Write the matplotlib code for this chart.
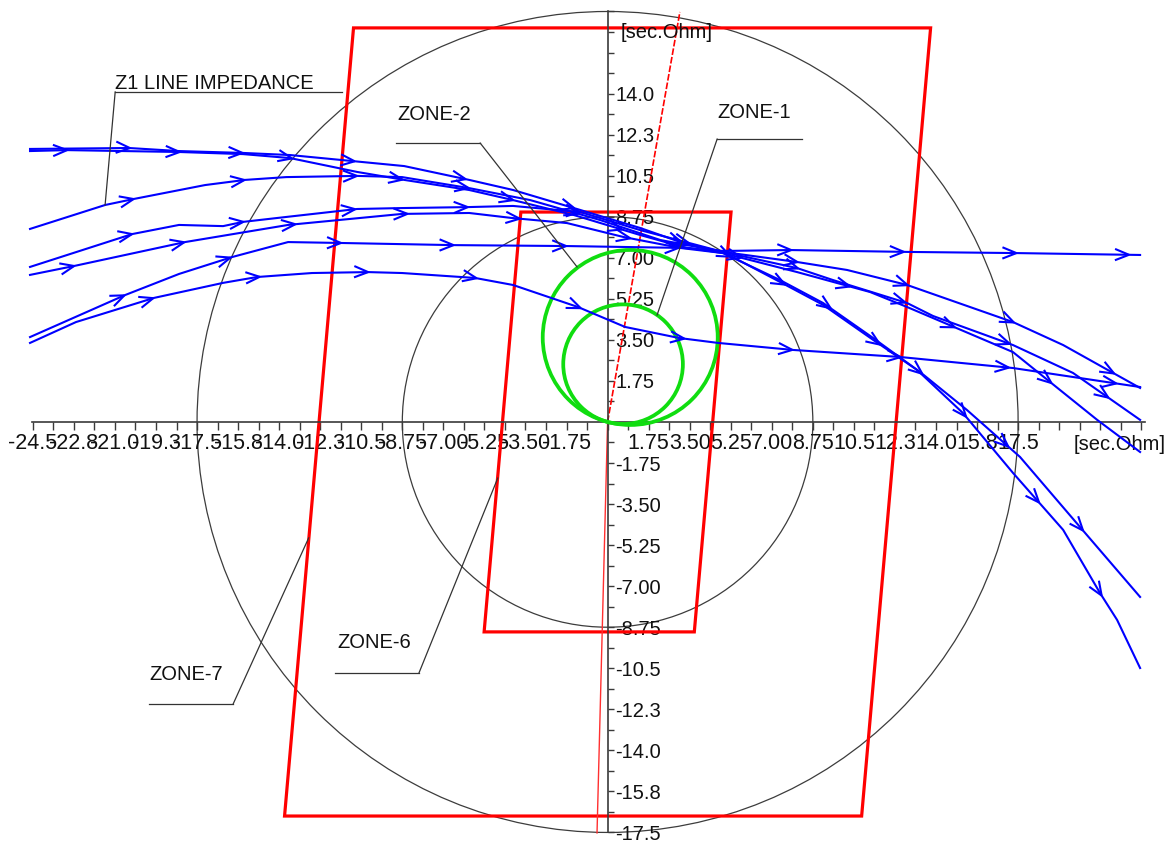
import numpy as np
import matplotlib
matplotlib.use("Agg")
import matplotlib.pyplot as plt
from matplotlib.patches import Circle, Polygon

plt.rcParams['font.family'] = ['Liberation Sans', 'DejaVu Sans']

# ---- axis scale (secondary ohms) ----
tick_step = 0.875
x_tick_min, x_tick_max = -24.5, 22.75
y_tick_min, y_tick_max = -17.5, 17.5
x_labels = ["-24.5", "-22.8", "-21.0", "-19.3", "-17.5", "-15.8", "-14.0", "-12.3",
            "-10.5", "-8.75", "-7.00", "-5.25", "-3.50", "-1.75", "",
            "1.75", "3.50", "5.25", "7.00", "8.75", "10.5", "12.3", "14.0", "15.8", "17.5"]
y_labels = ["-17.5", "-15.8", "-14.0", "-12.3", "-10.5", "-8.75", "-7.00", "-5.25",
            "-3.50", "-1.75", "", "1.75", "3.50", "5.25", "7.00", "8.75", "10.5",
            "12.3", "14.0"]

# ---- protection characteristics ----
quad_angle = 85.0            # tilt of quadrilateral reactance sides (deg)
zone7_r, zone7_x = 12.3, 16.8
zone6_r, zone6_x = 4.48, 8.95
line_angle = 80.0            # line impedance angle (deg)
line_len_fwd = 17.75
line_rev_R, line_rev_X = -0.45, -17.52
mho_angle = 75.0
mho_radii = [3.73, 2.55]     # zone-2, zone-1
ref_circle_radii = [17.5, 8.75]

# ---- power swing impedance trajectories (R, X) ----
traj_A1_R = [-24.62, -20.40, -18.27, -15.54, -13.53, -8.67, -5.90, -4.03, -1.17, 1.39, 3.22, 4.92,
             7.35, 9.19, 11.32, 13.19, 15.15, 17.28, 19.42, 20.99, 21.72, 22.70]
traj_A1_X = [11.64, 11.68, 11.55, 11.47, 11.38, 10.91, 10.32, 9.89, 9.04, 8.27, 7.63, 7.25,
             5.97, 4.99, 3.50, 2.22, 0.38, -2.17, -4.60, -7.29, -8.44, -10.49]

traj_A2_R = [-24.62, -23.04, -18.27, -15.54, -13.53, -10.68, -8.67, -5.90, -4.03, -1.43, 1.39, 3.22,
             4.92, 7.35, 9.19, 11.32, 13.32, 15.32, 17.58, 20.14, 22.70]
traj_A2_X = [11.55, 11.59, 11.51, 11.42, 11.25, 10.66, 10.32, 9.89, 9.46, 8.82, 7.97, 7.46,
             7.20, 6.05, 5.07, 3.58, 2.13, 0.51, -1.49, -4.48, -7.46]

traj_B_R = [-24.62, -21.42, -20.18, -17.16, -15.45, -13.70, -10.68, -8.76, -5.90, -3.30, -0.32, 2.24,
            4.92, 8.08, 10.21, 12.77, 17.28, 19.42, 21.55, 22.70]
traj_B_X = [8.23, 9.25, 9.51, 10.10, 10.32, 10.44, 10.49, 10.44, 9.97, 9.46, 8.61, 7.76,
            7.25, 6.82, 6.48, 5.84, 4.26, 3.28, 2.09, 1.45]

traj_C_R = [-24.62, -20.27, -18.27, -16.39, -15.54, -13.70, -10.68, -8.76, -5.99, -4.03, -1.17, 1.39,
            4.92, 8.08, 9.61, 12.77, 13.87, 17.28, 19.84, 22.70]
traj_C_X = [6.61, 8.01, 8.40, 8.35, 8.53, 8.74, 9.08, 9.12, 9.16, 9.21, 8.95, 8.18,
            7.25, 6.56, 6.05, 5.07, 4.52, 3.28, 2.09, 0.09]

traj_D_R = [-24.62, -22.74, -18.01, -13.62, -8.76, -5.90, -4.11, -1.73, 0.66, 3.09, 4.92, 8.08,
            11.19, 12.77, 17.28, 19.29, 20.87, 22.70]
traj_D_X = [6.27, 6.65, 7.67, 8.40, 8.87, 8.91, 8.70, 8.48, 7.89, 7.42, 7.20, 6.39,
            5.54, 4.90, 2.98, 1.36, 0.09, -1.28]

traj_E_R = [-24.62, -20.57, -18.27, -16.01, -13.62, -11.32, -6.59, -1.73, 3.22, 4.92, 7.78, 12.77,
            17.46, 22.70]
traj_E_X = [3.62, 5.41, 6.31, 7.03, 7.67, 7.63, 7.54, 7.50, 7.42, 7.29, 7.33, 7.25,
            7.20, 7.12]

traj_F_R = [-24.62, -22.66, -19.33, -16.39, -14.94, -12.60, -10.21, -8.76, -5.65, -4.03, -1.26, 0.75,
            3.05, 4.71, 7.91, 12.47, 17.28, 22.70]
traj_F_X = [3.37, 4.26, 5.29, 5.93, 6.18, 6.35, 6.39, 6.35, 6.14, 5.84, 4.90, 4.05,
            3.58, 3.37, 3.07, 2.77, 2.30, 1.49]

# (R, X, arc distance to first direction mark, distance between marks)
trajectories = [(traj_A1_R, traj_A1_X, 4.26, 4.8), (traj_A2_R, traj_A2_X, 1.58, 4.8),
                (traj_B_R, traj_B_X, 4.6, 4.8), (traj_C_R, traj_C_X, 4.57, 4.8),
                (traj_D_R, traj_D_X, 1.92, 4.8), (traj_E_R, traj_E_X, 4.4, 4.8),
                (traj_F_R, traj_F_X, 5.6, 4.63)]

# ---- annotation labels: text anchor, shelf line, leader start / end ----
notes = [
    ("Z1 LINE IMPEDANCE", (-20.99, 14.45), (-20.99, -11.32, 14.07), (-20.99, 14.07), (-21.42, 9.25)),
    ("ZONE-2", (-8.97, 13.09), (-9.02, -5.43, 11.89), (-5.43, 11.89), (-1.30, 6.61)),
    ("ZONE-1", (4.67, 13.21), (4.67, 8.29, 12.06), (4.67, 12.06), (2.11, 4.56)),
    ("ZONE-6", (-11.53, -9.42), (-11.62, -8.04, -10.70), (-8.04, -10.70), (-4.68, -2.39)),
    ("ZONE-7", (-19.54, -10.78), (-19.54, -15.96, -12.02), (-15.96, -12.02), (-12.74, -4.94)),
]

fig = plt.figure(figsize=(11.72, 8.43), dpi=100)
ax = fig.add_axes([0, 0, 1, 1])
ax.set_xlim(-25.90, 24.06)
ax.set_ylim(-17.95, 17.99)

# axes through the origin
for side in ("left", "top"):
    ax.spines[side].set_visible(False)
ax.spines["bottom"].set_position(("data", 0))
ax.spines["right"].set_position(("data", 0))
ax.spines["bottom"].set_bounds(-24.55, 22.9)
ax.spines["right"].set_bounds(-17.5, 17.5)
for side in ("bottom", "right"):
    ax.spines[side].set_color("#3a3a3a")
    ax.spines[side].set_linewidth(1.2)
ax.xaxis.set_ticks_position("bottom")
ax.yaxis.set_ticks_position("right")

def labels_for(ticks, names, zero_index):
    out = []
    for v in ticks:
        q = v / 1.75
        if abs(q - round(q)) < 1e-6:
            k = int(round(q)) + zero_index
            out.append(names[k] if 0 <= k < len(names) else "")
        else:
            out.append("")
    return out

xt = np.arange(x_tick_min, x_tick_max + 1e-6, tick_step)
yt = np.arange(y_tick_min, y_tick_max + 1e-6, tick_step)
ax.set_xticks(xt, labels_for(xt, x_labels, 14))
ax.set_yticks(yt, labels_for(yt, y_labels, 10))
ax.tick_params(axis="x", direction="out", length=5.5, width=1.0, color="#3a3a3a",
               pad=2.5, labelsize=15.5, labelcolor="#111111")
ax.tick_params(axis="y", direction="out", length=4.5, width=1.0, color="#3a3a3a",
               pad=1.2, labelsize=14.5, labelcolor="#111111")

ax.text(19.85, -0.98, "[sec.Ohm]", fontsize=14.5, ha="left", va="center", color="#111111")
ax.text(0.55, 16.6, "[sec.Ohm]", fontsize=14.5, ha="left", va="center", color="#111111")

# reference circles
for rad in ref_circle_radii:
    ax.add_patch(Circle((0, 0), rad, fill=False, ec="#3c3c3c", lw=0.9, zorder=1))

# quadrilateral zones
def quad(r_reach, x_reach, ang):
    shift = x_reach / np.tan(np.radians(ang))
    return [(-r_reach + shift, x_reach), (r_reach + shift, x_reach),
            (r_reach - shift, -x_reach), (-r_reach - shift, -x_reach)]

for rr, xx in ((zone7_r, zone7_x), (zone6_r, zone6_x)):
    ax.add_patch(Polygon(quad(rr, xx, quad_angle), closed=True, fill=False,
                         ec="#ff0000", lw=2.3, zorder=2))

# line impedance angle
ax.plot([0, line_len_fwd * np.cos(np.radians(line_angle))],
        [0, line_len_fwd * np.sin(np.radians(line_angle))],
        color="#ff0000", lw=1.2, ls=(0, (4, 1.2)), zorder=2)
ax.plot([0, line_rev_R], [0, line_rev_X], color="#ff3030", lw=1.0, zorder=2)

# mho circles
for rad in mho_radii:
    c = (rad * np.cos(np.radians(mho_angle)), rad * np.sin(np.radians(mho_angle)))
    ax.add_patch(Circle(c, rad, fill=False, ec="#10dd10", lw=2.7, zorder=3))

# trajectories with direction chevrons
def chevrons(r, x, offset, spacing, size=0.6, half=np.radians(22)):
    pts = np.column_stack([r, x])
    seg = np.diff(pts, axis=0)
    seglen = np.hypot(seg[:, 0], seg[:, 1])
    cum = np.concatenate([[0], np.cumsum(seglen)])
    s = offset
    while s < cum[-1] - 0.3:
        i = max(np.searchsorted(cum, s) - 1, 0)
        t = (s - cum[i]) / seglen[i]
        p = pts[i] + t * seg[i]
        a = np.arctan2(seg[i, 1], seg[i, 0])
        a1, a2 = a + np.pi + half, a + np.pi - half
        ax.plot([p[0] + size * np.cos(a1), p[0], p[0] + size * np.cos(a2)],
                [p[1] + size * np.sin(a1), p[1], p[1] + size * np.sin(a2)],
                color="#0000ff", lw=1.5, solid_joinstyle="miter", zorder=4)
        s += spacing

for r, x, off, step in trajectories:
    ax.plot(r, x, color="#0000ff", lw=1.5, zorder=4)
    chevrons(r, x, off, step)

# zone annotations
for label, tpos, shelf, start, end in notes:
    ax.text(tpos[0], tpos[1], label, fontsize=14.5, ha="left", va="center",
            color="#111111", zorder=6)
    ax.plot([shelf[0], shelf[1]], [shelf[2], shelf[2]], color="#333333", lw=0.9, zorder=5)
    ax.plot([start[0], end[0]], [start[1], end[1]], color="#333333", lw=0.9, zorder=5)

fig.savefig("out.png", dpi=100)
